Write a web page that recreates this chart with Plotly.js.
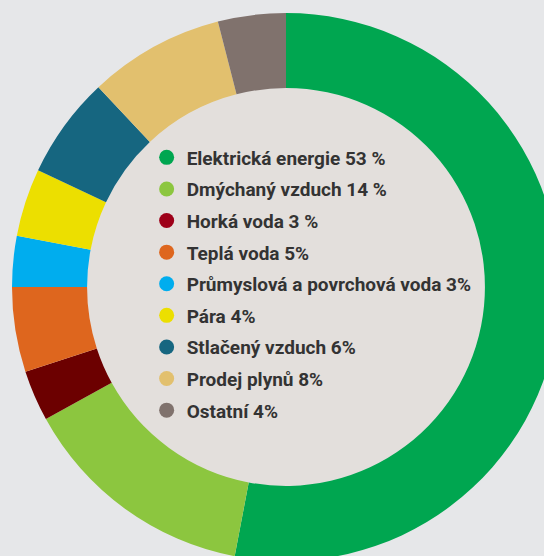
<!DOCTYPE html>
<html>
<head>
<meta charset="utf-8">
<script src="https://cdn.plot.ly/plotly-3.0.1.min.js"></script>
<style>
  html, body { margin: 0; padding: 0; background: #e6e7e9; overflow: hidden; width: 544px; height: 556px; }
  #chart { position: absolute; left: 12px; top: 13px; width: 548px; height: 548px; }
</style>
</head>
<body>
<div id="chart"></div>
<script>
const categories = [
  "Elektrická energie", "Dmýchaný vzduch", "Horká voda", "Teplá voda",
  "Průmyslová a povrchová voda", "Pára", "Stlačený vzduch", "Prodej plynů", "Ostatní"
];
const values = [53, 14, 3, 5, 3, 4, 6, 8, 4];
const legendLabels = [
  "Elektrická energie 53 %", "Dmýchaný vzduch 14 %", "Horká voda 3 %", "Teplá voda 5%",
  "Průmyslová a povrchová voda 3%", "Pára 4%", "Stlačený vzduch 6%", "Prodej plynů 8%", "Ostatní 4%"
];
const ringColors = ["#00a650", "#8cc63f", "#6c0000", "#de661e", "#00adee", "#ecdf00", "#166680", "#e2c06e", "#80726d"];
const legendColors = ["#00a650", "#8cc63f", "#9e0019", "#de661e", "#00adee", "#ecdf00", "#166680", "#e2c06e", "#80726d"];

const traces = [];
// inner disc (hole fill)
traces.push({
  type: "pie", values: [1], labels: ["hole"], marker: { colors: ["#e3dfdc"] },
  textinfo: "none", hoverinfo: "skip", showlegend: false, sort: false,
  domain: { x: [0.1369, 0.8631], y: [0.1369, 0.8631] }
});
traces.push({
  type: "pie", values: values, labels: categories,
  marker: { colors: ringColors, line: { width: 0 } },
  hole: 0.726, sort: false, direction: "clockwise", rotation: 0,
  textinfo: "none", hoverinfo: "label+percent", showlegend: false,
  domain: { x: [0, 1], y: [0, 1] }
});
categories.forEach((c, i) => {
  traces.push({
    type: "scatter", mode: "markers", x: [null], y: [null],
    name: legendLabels[i], legendgroup: "g" + i,
    marker: { color: legendColors[i], size: 15, symbol: "circle" },
    hoverinfo: "skip"
  });
});

const layout = {
  width: 548, height: 548,
  margin: { l: 0, r: 0, t: 0, b: 0 },
  paper_bgcolor: "#e6e7e9", plot_bgcolor: "rgba(0,0,0,0)",
  xaxis: { visible: false }, yaxis: { visible: false },
  showlegend: true,
  legend: {
    x: 0.2457, xanchor: "left", y: 0.5055, yanchor: "middle",
    bgcolor: "rgba(0,0,0,0)", borderwidth: 0,
    font: { family: "Roboto, sans-serif", size: 19, color: "#333333", weight: "bold" },
    tracegroupgap: 3.9, traceorder: "grouped", itemsizing: "trace"
  }
};
Plotly.newPlot("chart", traces, layout, { displayModeBar: false, staticPlot: true });
</script>
</body>
</html>
